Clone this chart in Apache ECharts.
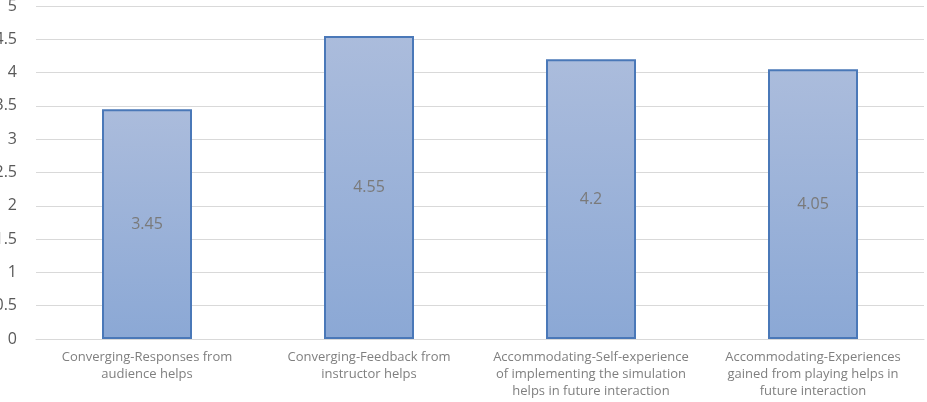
<!DOCTYPE html>
<html>
<head>
<meta charset="utf-8">
<style>
  html, body { margin: 0; padding: 0; background: #fff; }
  #chart { width: 927px; height: 402px; }
</style>
<script src="https://cdn.jsdelivr.net/npm/echarts@6/dist/echarts.min.js"></script>
</head>
<body>
<div id="chart"></div>
<script>
// chart data
var categories = [
  'Converging-Responses from\naudience helps',
  'Converging-Feedback from\ninstructor helps',
  'Accommodating-Self-experience\nof implementing the simulation\nhelps in future interaction',
  'Accommodating-Experiences\ngained from playing helps in\nfuture interaction'
]
var scores = [3.45, 4.55, 4.2, 4.05]
var yTicks = [0, 0.5, 1, 1.5, 2, 2.5, 3, 3.5, 4, 4.5, 5]

var chart = echarts.init(document.getElementById('chart'))

chart.setOption({
  animation: false,
  grid: {
    left: 36,
    right: 3,
    top: 6,
    bottom: 63,
    containLabel: false,
    outerBoundsMode: 'none'
  },
  xAxis: {
    type: 'category',
    data: categories,
    axisTick: { show: false },
    axisLine: { show: true, lineStyle: { color: '#d9d9d9', width: 1 } },
    axisLabel: {
      interval: 0,
      margin: 10,
      color: '#7f7f7f',
      fontFamily: 'Open Sans',
      fontSize: 13,
      lineHeight: 17
    }
  },
  yAxis: {
    type: 'value',
    min: yTicks[0],
    max: yTicks[yTicks.length - 1],
    interval: 0.5,
    axisLine: { show: false },
    axisTick: { show: false },
    splitLine: { lineStyle: { color: '#d9d9d9', width: 1 } },
    axisLabel: {
      margin: 19,
      color: '#595959',
      fontFamily: 'Open Sans',
      fontSize: 16
    }
  },
  series: [
    {
      type: 'bar',
      data: scores,
      barWidth: 90,
      itemStyle: {
        color: new echarts.graphic.LinearGradient(0, 0, 0, 1, [
          { offset: 0, color: '#abbcdc' },
          { offset: 1, color: '#8ba8d5' }
        ]),
        borderColor: '#4a78b8',
        borderWidth: 2
      },
      label: {
        show: true,
        position: 'inside',
        color: '#7a7a7a',
        fontFamily: 'Open Sans',
        fontSize: 16
      }
    }
  ]
})
</script>
</body>
</html>
